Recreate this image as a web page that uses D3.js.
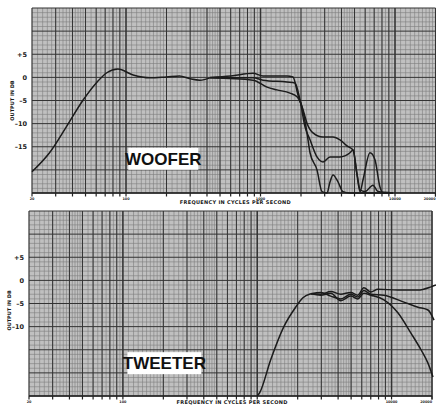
<!DOCTYPE html>
<html>
<head>
<meta charset="utf-8">
<script src="https://cdn.jsdelivr.net/npm/d3@7"></script>
<style>
  body { margin: 0; background: #fff; }
  svg { display: block; }
</style>
</head>
<body>
<div id="chart"></div>
<script>
// --- data (frequency in Hz, output in dB) ---
const dbDomain = [-25, 15];
const freqDomain = [20, 20000];
const wooferTicks = [5, 0, -5, -10, -15];
const tweeterTicks = [5, 0, -5, -10];
const wooferFreqLabels = [[20, "20"], [100, "100"], [1000, "1000"], [10000, "10000"], [20000, "20000"]];
const tweeterFreqLabels = [[20, "20"], [100, "100"], [10000, "10000"], [20000, "20000"]];

// woofer: shared low end, then three traces
const wooferLow = [[20, -20.4], [27, -16.3], [36, -10.7], [48, -4.9], [61, -1.0], [72, 1.0], [87, 1.8],
  [113, 0.5], [150, -0.1], [200, 0.1], [250, 0.3], [300, -0.3], [355, -0.6], [421, -0.1]];
const wooferA = [[421, 0], [600, 0.3], [879, 0.9], [1044, 0.3], [1574, 0.3], [1744, 0.1], [1900, -3.8],
  [2070, -7.0], [2216, -9.9], [2456, -12.0], [2916, -12.9], [3460, -12.9], [3900, -13.5], [4396, -14.8],
  [4876, -15.7], [5216, -21.1], [5496, -24.7], [5780, -22.2], [6516, -16.3], [7096, -17.8], [7728, -23.7],
  [8140, -25], [9660, -25]];
const wooferB = [[421, -0.1], [879, -0.1], [1044, -0.6], [1574, -1.0], [1805, -1.2], [1966, -4.9],
  [2142, -10.7], [2334, -13.5], [2630, -17.2], [2916, -18.3], [3286, -17.2], [3900, -17.2], [4626, -16.3],
  [4876, -15.7], [5216, -20.8], [5496, -24.3], [5980, -24.7], [6860, -23.3], [7470, -24.7], [9660, -25]];
const wooferC = [[421, -0.1], [879, -0.6], [1118, -2.1], [1326, -2.7], [1656, -3.4], [1868, -4.2],
  [2034, -6.4], [2216, -12.0], [2334, -16.3], [2630, -20.0], [2866, -24.7], [3122, -25], [3286, -22.6],
  [3460, -21.1], [3768, -22.6], [4100, -24.7], [4626, -25], [9660, -25]];

// tweeter: shared rise, then three traces
const tweeterLow = [[1000, -25], [1042, -24.3], [1258, -17.2], [1572, -10.1], [1932, -5.8], [2178, -3.8], [2500, -2.9]];
const tweeterA = [[2500, -2.9], [2970, -3.0], [3526, -2.4], [4188, -3.0], [4974, -2.6], [5610, -3.2],
  [6220, -1.6], [7012, -2.5], [7908, -1.9], [11144, -2.1], [15740, -2.1], [19680, -1.4], [21420, -1.0]];
const tweeterB = [[2500, -2.9], [2970, -2.6], [3526, -3.4], [4188, -4.0], [4974, -3.0], [5610, -3.6],
  [6220, -2.2], [7012, -3.0], [8770, -3.2], [12360, -4.7], [15740, -5.8], [18660, -6.4], [20700, -8.6]];
const tweeterC = [[2500, -2.9], [2970, -3.2], [3526, -2.8], [4188, -4.4], [4974, -3.4], [5610, -4.0],
  [6220, -2.8], [7012, -3.2], [8770, -4.2], [11144, -7.0], [13940, -11.4], [16560, -15.0], [18660, -17.9],
  [20340, -20.9]];

const W = 436, H = 405;
const svg = d3.select("#chart").append("svg").attr("width", W).attr("height", H);

// graph paper lines
const vMinor = [];
[10, 100, 1000, 10000].forEach(d => {
  for (let m = 1; m < 10; m += (m < 2 ? 0.1 : m < 5 ? 0.2 : 0.5)) {
    const f = +(d * m).toFixed(3);
    if (f >= 20 && f <= 20000) vMinor.push(f);
  }
});
vMinor.push(20000);
const vMajor = vMinor.filter(f => Math.abs(f / Math.pow(10, Math.floor(Math.log10(f) + 1e-9)) % 1) < 1e-6);

function panel(cfg) {
  const x = d3.scaleLog().domain(freqDomain).range([cfg.left, cfg.right]);
  const y = d3.scaleLinear().domain(dbDomain).range([cfg.bottom, cfg.top]);
  const g = svg.append("g");
  const font = "DejaVu Sans, sans-serif";

  g.append("rect")
    .attr("x", cfg.left).attr("y", cfg.top)
    .attr("width", x(20000) - cfg.left).attr("height", cfg.bottom - cfg.top)
    .attr("fill", "#c0c0c0");

  // minor verticals
  g.append("g").selectAll("line").data(vMinor).join("line")
    .attr("x1", d => x(d)).attr("x2", d => x(d))
    .attr("y1", cfg.top).attr("y2", cfg.bottom)
    .attr("stroke", "#7e7e7e").attr("stroke-width", 0.6);
  // horizontals
  g.append("g").selectAll("line").data(d3.range(dbDomain[0], dbDomain[1] + 1)).join("line")
    .attr("x1", cfg.left).attr("x2", x(20000))
    .attr("y1", d => y(d)).attr("y2", d => y(d))
    .attr("stroke", d => d % 5 === 0 ? "#333" : "#7e7e7e")
    .attr("stroke-width", d => d % 5 === 0 ? 1 : 0.6);
  // major verticals
  g.append("g").selectAll("line").data(vMajor).join("line")
    .attr("x1", d => x(d)).attr("x2", d => x(d))
    .attr("y1", cfg.top).attr("y2", cfg.bottom)
    .attr("stroke", "#333")
    .attr("stroke-width", d => Math.abs(Math.log10(d) % 1) < 1e-6 ? 1.5 : 1);

  // frame bottom + ticks
  g.append("line")
    .attr("x1", cfg.left).attr("x2", x(20000))
    .attr("y1", cfg.bottom).attr("y2", cfg.bottom)
    .attr("stroke", "#222").attr("stroke-width", 1.4);
  g.append("g").selectAll("line").data(vMajor).join("line")
    .attr("x1", d => x(d)).attr("x2", d => x(d))
    .attr("y1", cfg.bottom).attr("y2", cfg.bottom + 3.5)
    .attr("stroke", "#222").attr("stroke-width", 1.2);

  // frequency labels
  g.append("g").selectAll("text").data(cfg.freqLabels).join("text")
    .attr("x", d => x(d[0])).attr("y", cfg.bottom + 6.5)
    .attr("text-anchor", d => d[0] >= 20000 ? "end" : "middle")
    .attr("font-family", font)
    .attr("font-weight", "bold").attr("font-size", 3.4)
    .attr("fill", "#222")
    .text(d => d[1]);

  g.append("text")
    .attr("x", x(650)).attr("y", cfg.titleY)
    .attr("text-anchor", "middle")
    .attr("font-family", font)
    .attr("font-weight", "bold").attr("font-size", 5)
    .attr("letter-spacing", 0.3)
    .attr("fill", "#1a1a1a")
    .text("FREQUENCY IN CYCLES PER SECOND");

  // y labels
  g.append("g").selectAll("text").data(cfg.ticks).join("text")
    .attr("x", cfg.left - 5).attr("y", d => y(d) + 2.3)
    .attr("text-anchor", "end")
    .attr("font-family", font)
    .attr("font-weight", "bold").attr("font-size", 6.5)
    .attr("fill", "#1a1a1a")
    .text(d => d > 0 ? "+" + d : d < 0 ? "\u2013" + (-d) : "0");

  g.append("text")
    .attr("transform", `translate(${cfg.left - 18},${y(cfg.titleDb)}) rotate(-90)`)
    .attr("text-anchor", "middle")
    .attr("font-family", font)
    .attr("font-weight", "bold").attr("font-size", 5)
    .attr("fill", "#1a1a1a")
    .text("OUTPUT IN DB");

  // traces
  const line = d3.line().x(d => x(d[0])).y(d => y(d[1])).curve(d3.curveMonotoneX);
  g.append("g").selectAll("path").data(cfg.series).join("path")
    .attr("d", line)
    .attr("fill", "none")
    .attr("stroke", "#1b1b1b")
    .attr("stroke-width", 1.5)
    .attr("stroke-linejoin", "round");

  // name box
  const lx = x(cfg.labelFreq), ly = y(cfg.labelDb);
  g.append("rect")
    .attr("x", lx).attr("y", ly - 11)
    .attr("width", cfg.labelW).attr("height", 22)
    .attr("fill", "#fff");
  g.append("text")
    .attr("x", lx + cfg.labelW / 2).attr("y", ly + 6)
    .attr("text-anchor", "middle")
    .attr("font-family", "Liberation Sans, Arial, sans-serif")
    .attr("font-weight", "bold").attr("font-size", 17)
    .attr("fill", "#111")
    .text(cfg.label);
}

panel({
  left: 32, right: 435.5, top: 8, bottom: 193,
  ticks: wooferTicks, titleDb: -5, titleY: 204,
  freqLabels: wooferFreqLabels,
  series: [wooferLow, wooferA, wooferB, wooferC],
  label: "WOOFER", labelFreq: 104, labelDb: -17.6, labelW: 70
});

panel({
  left: 29, right: 432, top: 211, bottom: 396,
  ticks: tweeterTicks, titleDb: -6.5, titleY: 404,
  freqLabels: tweeterFreqLabels,
  series: [tweeterLow, tweeterA, tweeterB, tweeterC],
  label: "TWEETER", labelFreq: 108, labelDb: -17.9, labelW: 74
});
</script>
</body>
</html>
